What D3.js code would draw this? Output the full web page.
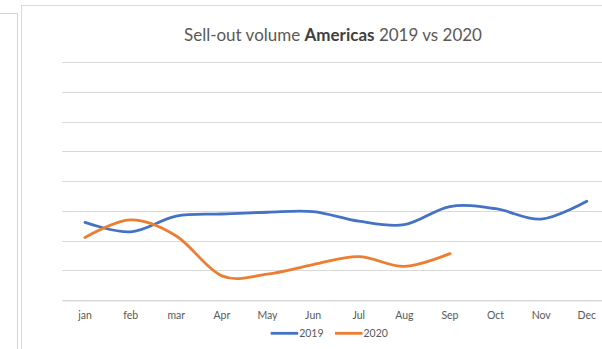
<!DOCTYPE html>
<html>
<head>
<meta charset="utf-8">
<script src="https://cdn.jsdelivr.net/npm/d3@7/dist/d3.min.js"></script>
<style>
  html, body { margin: 0; padding: 0; background: #fff; }
  svg { display: block; }
</style>
</head>
<body>
<svg id="chart" width="602" height="349"></svg>
<script>
const months = ["jan","feb","mar","Apr","May","Jun","Jul","Aug","Sep","Oct","Nov","Dec"];
const values2019 = [2.61, 2.29, 2.82, 2.89, 2.95, 2.97, 2.65, 2.53, 3.14, 3.07, 2.72, 3.32];
const values2020 = [2.10, 2.69, 2.15, 0.81, 0.87, 1.19, 1.46, 1.13, 1.56];
const gridTicks = [0,1,2,3,4,5,6,7,8];
const seriesNames = ["2019", "2020"];
const colors = ["#4472C4", "#ED7D31"];

const svg = d3.select("#chart");
const FONT = "Lato, 'Open Sans', 'Liberation Sans', sans-serif";
const textColor = "#595959";

// outer frames (screenshot context)
svg.append("path").attr("d", "M0,13.5H17.5V349").attr("fill", "none").attr("stroke", "#d4d4d4").attr("stroke-width", 1);
svg.append("rect").attr("x", 21.5).attr("y", 5.5).attr("width", 700).attr("height", 400)
   .attr("fill", "#fff").attr("stroke", "#d9d9d9").attr("stroke-width", 1);

const plotLeft = 62.2, plotRight = 609.6, plotTop = 62, plotBottom = 300;

const x = d3.scaleBand().domain(months).range([plotLeft, plotRight]).padding(0);
const cx = d => x(d) + x.bandwidth() / 2;
const y = d3.scaleLinear().domain([0, 8]).range([plotBottom, plotTop]);

// gridlines
svg.append("g").selectAll("line").data(gridTicks).join("line")
  .attr("x1", plotLeft).attr("x2", plotRight)
  .attr("y1", d => Math.round(y(d)) + 0.5).attr("y2", d => Math.round(y(d)) + 0.5)
  .attr("stroke", "#d9d9d9").attr("stroke-width", 1);

// x axis
const xAxis = svg.append("g")
  .attr("transform", `translate(0,${plotBottom + 0.5})`)
  .call(d3.axisBottom(x).tickSize(0).tickSizeOuter(0).tickPadding(11.5));
xAxis.select(".domain").attr("stroke", "#d9d9d9");
xAxis.selectAll("text").attr("fill", textColor).style("font-family", FONT).style("font-size", "10.5px");

// lines
const line = d3.line()
  .x((d, i) => cx(months[i]))
  .y(d => y(d))
  .curve(d3.curveCatmullRom.alpha(0));

[values2019, values2020].forEach((vals, k) => {
  svg.append("path").datum(vals)
    .attr("d", line)
    .attr("fill", "none")
    .attr("stroke", colors[k])
    .attr("stroke-width", 2.8)
    .attr("stroke-linecap", "round")
    .attr("stroke-linejoin", "round");
});

// title
const title = svg.append("text")
  .attr("x", 333).attr("y", 40.5)
  .attr("text-anchor", "middle")
  .attr("fill", textColor)
  .style("font-family", FONT)
  .style("font-size", "16px");
title.append("tspan").text("Sell-out volume ");
title.append("tspan").attr("font-weight", "bold").attr("fill", "#404040").text("Americas");
title.append("tspan").text(" 2019 vs 2020");
// fit width to ~298px
const tw = title.node().getComputedTextLength();
title.style("font-size", (16 * 298 / tw).toFixed(2) + "px");

// legend
const legendX = [270.7, 335];
seriesNames.forEach((name, k) => {
  const g = svg.append("g");
  g.append("line")
    .attr("x1", legendX[k]).attr("x2", legendX[k] + 27.5)
    .attr("y1", 333.3).attr("y2", 333.3)
    .attr("stroke", colors[k]).attr("stroke-width", 2.8);
  g.append("text")
    .attr("x", legendX[k] + 28.5).attr("y", 337)
    .attr("fill", textColor)
    .style("font-family", FONT).style("font-size", "10.5px")
    .text(name);
});
</script>
</body>
</html>
